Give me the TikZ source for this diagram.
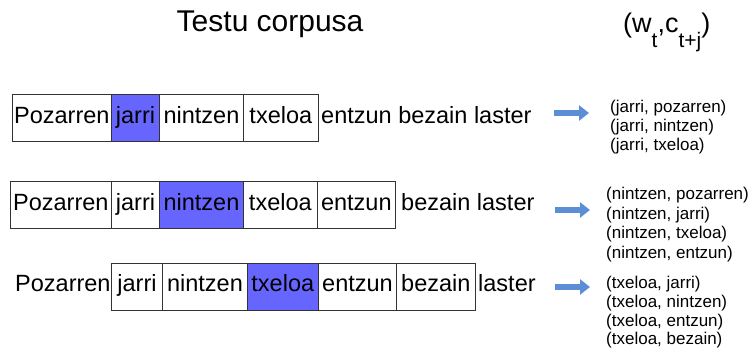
\documentclass[tikz,border=0pt]{standalone}
\usepackage{fontspec}
\setmainfont{Liberation Sans}
\usetikzlibrary{arrows.meta}
\definecolor{hl}{RGB}{102,102,255}
\definecolor{arr}{RGB}{91,142,213}
\definecolor{bd}{RGB}{51,51,51}
\newcommand\mywordfont{\fontsize{23.5}{28}\selectfont}
\newcommand\mylistfont{\fontsize{17}{19}\selectfont}
\newcommand\mytitlefont{\fontsize{30}{34}\selectfont}
\newcommand\mymathfont{\fontsize{27}{30}\selectfont}
\newcommand\mysubs[1]{\raisebox{-15pt}{\fontsize{21}{22}\selectfont #1}}
\begin{document}
\begin{tikzpicture}[x=1pt,y=-1pt,
  cell/.style={draw=bd, line width=1pt, minimum height=47pt, inner sep=0pt,
    text height=16.5pt, text depth=7pt, font=\mywordfont},
  hlcell/.style={cell, fill=hl},
  word/.style={anchor=base west, inner sep=0pt, font=\mywordfont},
  pair/.style={anchor=base west, inner sep=0pt, font=\mylistfont},
  blockarrow/.style={draw=arr, line width=6pt, -{Triangle[length=10pt,width=15pt]}}
]
\useasboundingbox (0,0) rectangle (749,352);

% titles
\node[anchor=base west, inner sep=0pt, font=\mytitlefont] (title) at (176.5,32) {Testu corpusa};
\node[anchor=base west, inner sep=0pt, font=\mymathfont] (pairtitle) at (623,33) {(w\mysubs{t},c\mysubs{t+j})};

% row 1
\node[cell, minimum width=99.7pt] (r1a) at (61.85,118.5) {Pozarren};
\node[hlcell, minimum width=47.6pt] (r1b) at (135.5,118.5) {jarri};
\node[cell, minimum width=84.4pt] (r1c) at (201.5,118.5) {nintzen};
\node[cell, minimum width=74.3pt] (r1d) at (280.85,118.5) {txeloa};
\node[word] (r1e) at (321,123.25) {entzun bezain laster};

% row 2
\node[cell, minimum width=101.7pt] (r2a) at (60.85,205.5) {Pozarren};
\node[cell, minimum width=47.6pt] (r2b) at (135.5,205.5) {jarri};
\node[hlcell, minimum width=84.4pt] (r2c) at (201.5,205.5) {nintzen};
\node[cell, minimum width=73.3pt] (r2d) at (280.35,205.5) {txeloa};
\node[cell, minimum width=78.7pt] (r2e) at (356.35,205.5) {entzun};
\node[word] (r2f) at (401,210.25) {bezain laster};

% row 3
\node[word] (r3a) at (15,291.4) {Pozarren};
\node[cell, minimum width=51.4pt] (r3b) at (137,286.65) {jarri};
\node[cell, minimum width=84.6pt] (r3c) at (205,286.65) {nintzen};
\node[hlcell, minimum width=71pt] (r3d) at (282.8,286.65) {txeloa};
\node[cell, minimum width=78.4pt] (r3e) at (357.5,286.65) {entzun};
\node[cell, minimum width=78.3pt] (r3f) at (435.85,286.65) {bezain};
\node[word] (r3g) at (478,291.4) {laster};

% arrows
\coordinate (a1s) at (554,113);
\coordinate (a1e) at (589,113);
\coordinate (a2s) at (555,210);
\coordinate (a2e) at (590,210);
\coordinate (a3s) at (555,287);
\coordinate (a3e) at (590,287);
\draw[blockarrow] (a1s) -- (a1e);
\draw[blockarrow] (a2s) -- (a2e);
\draw[blockarrow] (a3s) -- (a3e);

% pair lists
\node[pair] (l1a) at (610,113) {(jarri, pozarren)};
\node[pair] (l1b) at (610,132) {(jarri, nintzen)};
\node[pair] (l1c) at (610,151) {(jarri, txeloa)};

\node[pair] (l2a) at (606,199.7) {(nintzen, pozarren)};
\node[pair] (l2b) at (606,219.3) {(nintzen, jarri)};
\node[pair] (l2c) at (606,238.9) {(nintzen, txeloa)};
\node[pair] (l2d) at (606,258.5) {(nintzen, entzun)};

\node[pair] (l3a) at (606,288.7) {(txeloa, jarri)};
\node[pair] (l3b) at (606,307.4) {(txeloa, nintzen)};
\node[pair] (l3c) at (606,326.1) {(txeloa, entzun)};
\node[pair] (l3d) at (606,344.8) {(txeloa, bezain)};
\end{tikzpicture}
\end{document}
